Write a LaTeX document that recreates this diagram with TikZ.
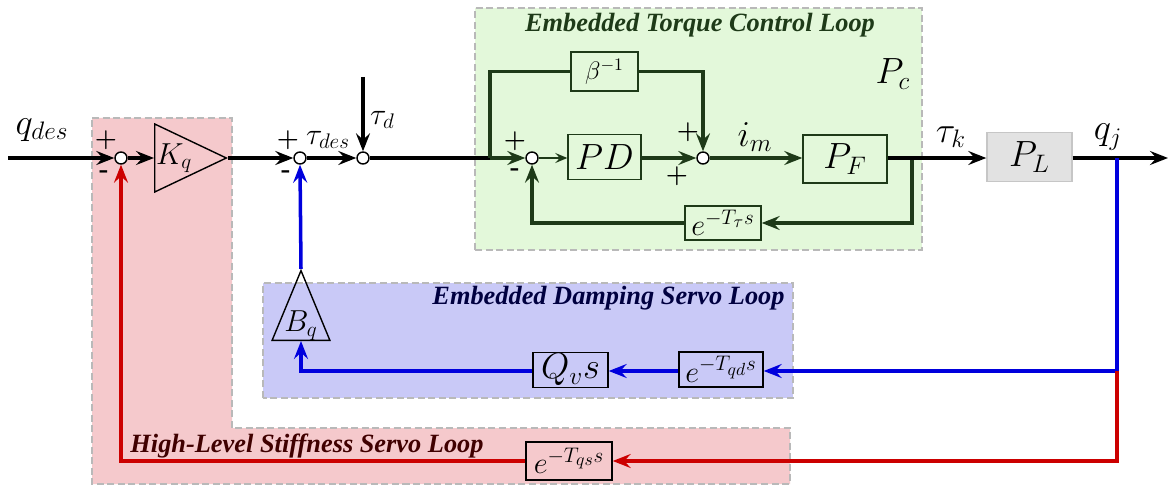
\documentclass[tikz,border=0pt]{standalone}
\usepackage{amsmath}
\usepackage{fontspec}
\newfontfamily\loopfont{Liberation Serif}
\usetikzlibrary{arrows.meta,calc,shapes.geometric}

\definecolor{torquegreen}{HTML}{1E3A18}
\definecolor{dampblue}{HTML}{0000DD}
\definecolor{stiffred}{HTML}{CC0000}
\definecolor{greenzone}{HTML}{E3F8DA}
\definecolor{bluezone}{HTML}{C9C9F7}
\definecolor{redzone}{HTML}{F5C9CC}
\definecolor{plantgray}{HTML}{E2E2E2}

\begin{document}
\begin{tikzpicture}[
  x=1cm,
  y=1cm,
  >=Stealth,
  font=\huge,
  line/.style={draw=black,line width=2pt},
  arrow/.style={line,-{Stealth[length=3.6mm,width=2.8mm,inset=1.3mm]}},
  thinarrow/.style={draw=torquegreen,line width=0.8pt,-{Stealth[length=2.4mm,width=2mm,inset=0.9mm]}},
  sumnode/.style={circle,draw=black,fill=white,line width=0.8pt,inner sep=0pt,minimum size=0.24cm},
  block/.style={draw=black,line width=0.8pt,inner sep=1pt},
  gain/.style={isosceles triangle,isosceles triangle stretches,draw=black,line width=0.8pt,inner sep=0pt},
  zone/.style={draw=gray!55,dashed,dash pattern=on 4pt off 2pt,line width=0.7pt},
  looptitle/.style={font=\loopfont\bfseries\itshape\fontsize{15}{17}\selectfont},
  sign/.style={font=\Large\bfseries}
]

\useasboundingbox[fill=white] (0,0) rectangle (23.38,9.72);

% Loop regions
\filldraw[zone,fill=redzone] (1.84,7.36) -- (4.64,7.36) -- (4.64,1.16) -- (15.80,1.16)
  -- (15.80,0.04) -- (1.84,0.04) -- cycle;
\filldraw[zone,fill=bluezone] (5.26,1.76) rectangle (15.86,4.06);
\filldraw[zone,fill=greenzone] (9.50,4.72) rectangle (18.44,9.56);

\node[looptitle,text=torquegreen] (torquetitle) at (14.00,9.22) {Embedded Torque Control Loop};
\node[looptitle,text=blue!25!black] (damptitle) at (12.17,3.76) {Embedded Damping Servo Loop};
\node[looptitle,text=red!25!black] (stifftitle) at (6.14,0.80) {High-Level Stiffness Servo Loop};

% Forward path
\coordinate (qin) at (0.16,6.56);
\node (qdes) at (0.84,7.12) {$q_{des}$};
\node[sumnode] (sumq) at (2.42,6.56) {};
\node[gain,anchor=lower side,minimum width=1.36cm,minimum height=1.28cm,font=\LARGE] (kq) at (3.08,6.56) {$K_q$\hspace{2mm}};
\node[sumnode] (sumtau) at (6.00,6.56) {};
\node[sumnode] (sumd) at (7.26,6.56) {};
\coordinate (taudin) at (7.26,8.18);
\node[anchor=west,font=\LARGE] (taud) at (7.28,7.32) {$\tau_d$};
\node[font=\LARGE] (taudes) at (6.56,6.92) {$\tau_{des}$};

\node[sign] at (2.12,6.92) {+};
\node[sign] at (2.08,6.24) {-};
\node[sign] at (5.76,6.92) {+};
\node[sign] at (5.72,6.24) {-};

\draw[arrow] (qin) -- (sumq.west);
\draw[arrow] (sumq.east) -- (kq.lower side);
\draw[arrow] (kq.apex) -- (sumtau.west);
\draw[arrow] (sumtau.east) -- (sumd.west);
\draw[arrow] (taudin) -- (sumd.north);

% Embedded torque loop
\coordinate (split) at (9.80,6.56);
\node[sumnode] (sumc) at (10.64,6.56) {};
\node[block,draw=torquegreen,minimum width=1.34cm,minimum height=0.78cm,font=\Large] (beta) at (12.09,8.29) {$\beta^{-1}$};
\node[block,draw=torquegreen,minimum width=1.46cm,minimum height=0.90cm] (pd) at (12.09,6.58) {$PD$};
\node[sumnode] (sumi) at (14.06,6.56) {};
\node[block,draw=torquegreen,minimum width=1.68cm,minimum height=0.96cm] (pf) at (16.90,6.54) {$P_F$};
\node[block,draw=torquegreen,minimum width=1.52cm,minimum height=0.68cm,font=\LARGE] (dtau) at (14.46,5.26) {$e^{-T_\tau s}$};
\coordinate (fbk) at (18.24,6.56);
\node (im) at (15.10,6.98) {$i_m$};
\node (pc) at (17.86,8.24) {$P_c$};

\node[sign] at (10.30,6.90) {+};
\node[sign] at (10.30,6.28) {-};
\node[sign] at (13.76,7.08) {+};
\node[sign] at (13.54,6.20) {+};

\draw[line] (sumd.east) -- (split);
\draw[arrow,draw=torquegreen] (split) -- (sumc.west);
\draw[line,draw=torquegreen] (split) |- (beta.west);
\draw[arrow,draw=torquegreen] (beta.east) -| (sumi.north);
\draw[thinarrow] (sumc.east) -- (pd.west |- sumc);
\draw[arrow,draw=torquegreen] (pd.east |- sumi) -- (sumi.west);
\draw[arrow,draw=torquegreen] (sumi.east) -- (pf.west |- sumi);
\draw[arrow,draw=torquegreen] (fbk) |- (dtau.east);
\draw[arrow,draw=torquegreen] (dtau.west) -| (sumc.south);

% Plant and output
\node[draw=gray!45,fill=plantgray,line width=0.8pt,minimum width=1.70cm,minimum height=0.98cm] (pl) at (20.59,6.58) {$P_L$};
\node (tauk) at (19.02,6.98) {$\tau_k$};
\node (qj) at (22.16,6.98) {$q_j$};
\coordinate (qjout) at (22.34,6.56);
\coordinate (qend) at (23.36,6.56);
\draw[arrow] (pf.east |- sumi) -- (pl.west |- sumi);
\draw[arrow] (pl.east |- sumi) -- (qend);

% Damping servo loop
\coordinate (bend) at (22.34,2.30);
\node[block,minimum width=1.68cm,minimum height=0.70cm,font=\LARGE] (dqd) at (14.42,2.33) {$e^{-T_{qd}s}$};
\node[block,minimum width=1.50cm,minimum height=0.68cm] (qvs) at (11.41,2.32) {$Q_v s$};
\node[gain,shape border rotate=90,anchor=lower side,minimum width=1.04cm,minimum height=1.32cm,font=\LARGE] (bq) at (6.02,2.90) {$B_q$};
\draw[line,draw=dampblue] (qjout) -- (bend);
\draw[arrow,draw=dampblue] (bend) -- (dqd.east |- bend);
\draw[arrow,draw=dampblue] (dqd.west |- bend) -- (qvs.east |- bend);
\draw[arrow,draw=dampblue] (qvs.west |- bend) -| (bq.lower side);
\draw[arrow,draw=dampblue] (bq.apex) -- (sumtau.south);

% Stiffness servo loop
\node[block,minimum width=1.72cm,minimum height=0.76cm,font=\LARGE] (dqs) at (11.38,0.50) {$e^{-T_{qs}s}$};
\draw[arrow,draw=stiffred] (bend) |- (dqs.east);
\draw[arrow,draw=stiffred] (dqs.west) -| (sumq.south);

\end{tikzpicture}
\end{document}
